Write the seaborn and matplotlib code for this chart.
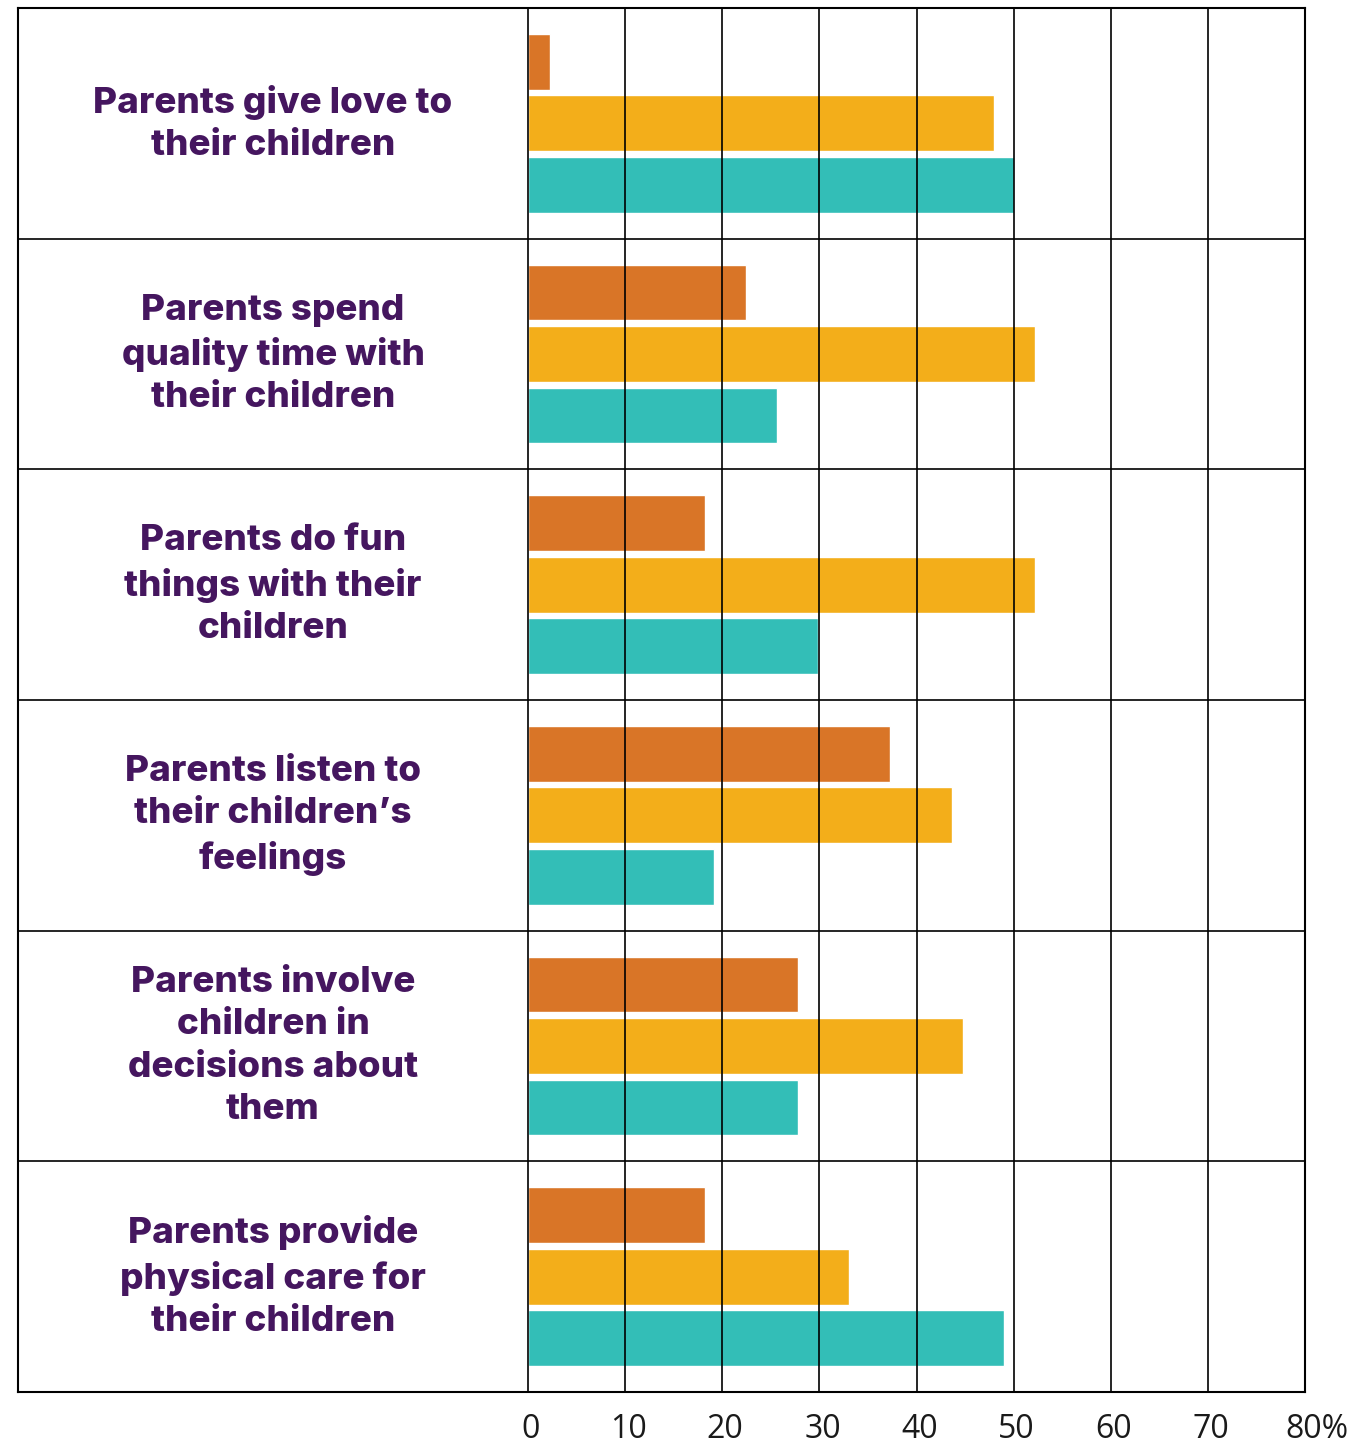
import matplotlib
matplotlib.use("Agg")
import matplotlib.pyplot as plt
import matplotlib.transforms as mtransforms
import pandas as pd
import seaborn as sns

# Survey statements and the share (%) choosing each, for three respondent groups
statements = [
    "Parents give love to\ntheir children",
    "Parents spend\nquality time with\ntheir children",
    "Parents do fun\nthings with their\nchildren",
    "Parents listen to\ntheir children\u2019s\nfeelings",
    "Parents involve\nchildren in\ndecisions about\nthem",
    "Parents provide\nphysical care for\ntheir children",
]
groups = ["Group A", "Group B", "Group C"]
group_a = [2.3, 22.4, 18.2, 37.3, 27.8, 18.2]
group_b = [48.0, 52.2, 52.2, 43.7, 44.8, 33.1]
group_c = [50.0, 25.6, 29.9, 19.2, 27.8, 49.0]
tick_values = [0, 10, 20, 30, 40, 50, 60, 70, 80]
tick_labels = ["0", "10", "20", "30", "40", "50", "60", "70", "80%"]
colors = ["#D97527", "#F3AE1A", "#33BEB7"]

rows = []
for i, s in enumerate(statements):
    for g, vals in zip(groups, [group_a, group_b, group_c]):
        rows.append({"statement": s, "group": g, "value": vals[i]})
df = pd.DataFrame(rows)

sns.set_theme(style="white")
plt.rcParams["font.family"] = ["Open Sans", "DejaVu Sans"]

W, H = 1356, 1451
fig = plt.figure(figsize=(W / 100, H / 100), dpi=100)
left_px, right_px, top_px, bottom_px = 18, 1305, 8, 1392
ax = fig.add_axes([left_px / W, 1 - bottom_px / H,
                   (right_px - left_px) / W, (bottom_px - top_px) / H])

sns.barplot(data=df, y="statement", x="value", hue="group", orient="h",
            palette=colors, hue_order=groups, order=statements,
            width=0.80, gap=0.09, saturation=1, legend=False, ax=ax,
            errorbar=None)

# x range: label column on the left, bar area from 0 to 80
x_left = -(528 - left_px) / ((right_px - 528) / 80)
ax.set_xlim(x_left, 80)
n = len(statements)
ax.set_ylim(n - 0.5, -0.5)

# vertical gridlines drawn over the bars
ax.vlines(tick_values[:-1], -0.5, n - 0.5, colors="black", linewidth=1.2, zorder=5)
# row separators across the full width
ax.hlines([i + 0.5 for i in range(n - 1)], x_left, 80, colors="black",
          linewidth=1.2, zorder=5)

for sp in ax.spines.values():
    sp.set_visible(True)
    sp.set_color("black")
    sp.set_linewidth(1.5)

ax.set_yticks([])
ax.set_ylabel("")
ax.set_xlabel("")
ax.set_xticks(tick_values)
ax.set_xticklabels(tick_labels, fontsize=23, color="#1a1a1a")
ax.tick_params(axis="x", length=0, pad=15)
shift = mtransforms.ScaledTranslation(3 / 100, 0, fig.dpi_scale_trans)
for lbl in ax.get_xticklabels():
    if lbl.get_text().endswith("%"):
        lbl.set_horizontalalignment("left")
        lbl.set_transform(lbl.get_transform() + mtransforms.ScaledTranslation(-20 / 100, 0, fig.dpi_scale_trans))
    else:
        lbl.set_transform(lbl.get_transform() + shift)

# statement labels centred in the left column
trans = mtransforms.blended_transform_factory(ax.transAxes, ax.transData)
label_x = (273 - left_px) / (right_px - left_px)
for i, s in enumerate(statements):
    ax.text(label_x, i, s, transform=trans, ha="center", va="center",
            fontsize=26.5, fontweight="heavy", color="#45165F",
            family=["Inter", "DejaVu Sans"], linespacing=1.36)

fig.savefig("out.png", dpi=100)
